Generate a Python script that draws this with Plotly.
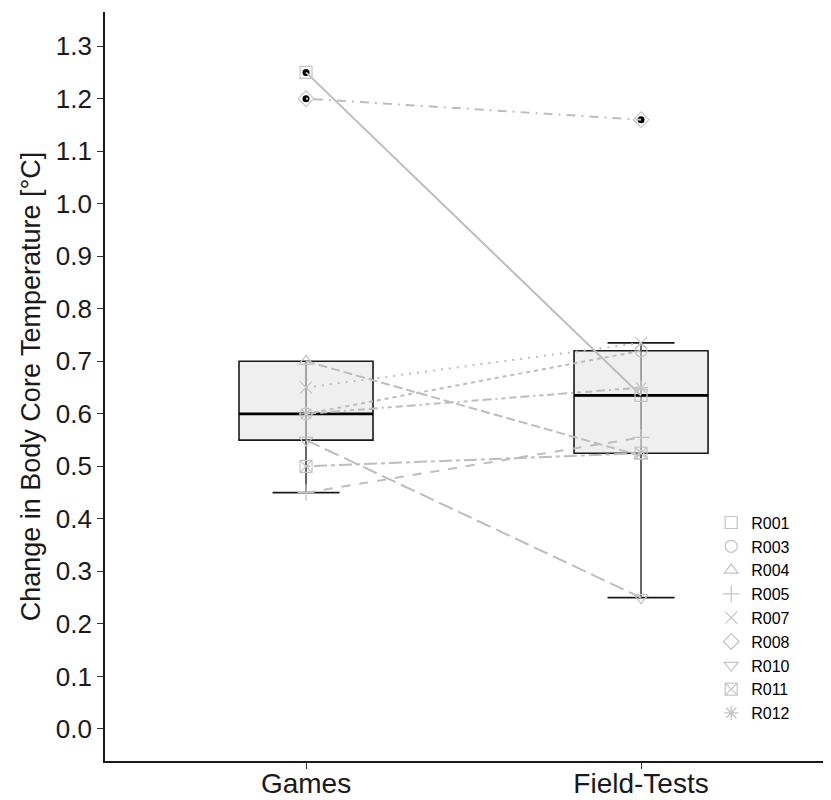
import numpy as np
import plotly.graph_objects as go

# ---- data ----
conditions = ["Games", "Field-Tests"]
subjects = ["R001", "R003", "R004", "R005", "R007", "R008", "R010", "R011", "R012"]
games = [1.25, 0.60, 0.70, 0.45, 0.65, 1.20, 0.55, 0.50, 0.60]
field_tests = [0.635, 0.72, 0.52, 0.555, 0.735, 1.16, 0.25, 0.525, 0.65]
y_ticks = [0.0, 0.1, 0.2, 0.3, 0.4, 0.5, 0.6, 0.7, 0.8, 0.9, 1.0, 1.1, 1.2, 1.3]

symbols = ["square-open", "circle-open", "triangle-up-open", "cross-thin-open",
           "x-thin-open", "diamond-open", "triangle-down-open", "square-x-open",
           "asterisk-open"]
dashes = ["solid", "4px,4px", "9px,4px", "9px,9px", "2px,6px", "2px,6px,9px,6px",
          "15px,6px", "4px,4px,13px,4px", "2px,4px,4px,4px,7px,4px,9px,4px"]

FONT = "Arial, Liberation Sans, sans-serif"
LINE_COL = "#bdbdbd"
MARK_COL = "#c4c4c4"

fig = go.Figure()
xpos = [1, 2]
series = [games, field_tests]

for xi, vals in zip(xpos, series):
    v = np.array(vals)
    q1, med, q3 = np.percentile(v, [25, 50, 75])
    iqr = q3 - q1
    lo_f = v[v >= q1 - 1.5 * iqr].min()
    hi_f = v[v <= q3 + 1.5 * iqr].max()
    outl = v[(v < q1 - 1.5 * iqr) | (v > q3 + 1.5 * iqr)]
    fig.add_trace(go.Box(x=[xi], q1=[q1], median=[med], q3=[q3],
                         lowerfence=[lo_f], upperfence=[hi_f],
                         width=0.4, whiskerwidth=0.5, fillcolor="#efefef",
                         line=dict(color="#1a1a1a", width=1.6),
                         boxpoints=False, showlegend=False, hoverinfo="skip"))
    # errorbar vertical through box
    fig.add_trace(go.Scatter(x=[xi, xi], y=[lo_f, hi_f], mode="lines",
                             line=dict(color="#7a7a7a", width=1.3),
                             showlegend=False, hoverinfo="skip"))
    # thick median
    fig.add_trace(go.Scatter(x=[xi - 0.2, xi + 0.2], y=[med, med], mode="lines",
                             line=dict(color="black", width=2.8),
                             showlegend=False, hoverinfo="skip"))
    fig.add_trace(go.Scatter(x=[xi] * len(outl), y=list(outl), mode="markers",
                             marker=dict(color="black", size=7),
                             showlegend=False, hoverinfo="skip"))

for i, s in enumerate(subjects):
    fig.add_trace(go.Scatter(x=xpos, y=[games[i], field_tests[i]], mode="lines+markers",
                             line=dict(color=LINE_COL, width=2, dash=dashes[i]),
                             marker=dict(symbol=symbols[i], size=12, color=MARK_COL,
                                         line=dict(color=MARK_COL, width=1.2)),
                             showlegend=False, hoverinfo="skip"))
    fig.add_trace(go.Scatter(x=[None], y=[None], mode="markers", name=s,
                             marker=dict(symbol=symbols[i], size=12, color=MARK_COL,
                                         line=dict(color=MARK_COL, width=1.2)),
                             showlegend=True))

# page body has an 8px margin: figure is sized/offset to compensate
fig.update_layout(
    width=823, height=792,
    margin=dict(l=97, r=0, t=4, b=39, autoexpand=False),
    plot_bgcolor="white", paper_bgcolor="white",
    font=dict(family=FONT, color="black"),
    legend=dict(x=0.835, y=0.341, xanchor="left", yanchor="top",
                font=dict(size=16, family=FONT, color="black"),
                bgcolor="rgba(0,0,0,0)", tracegroupgap=0),
    xaxis=dict(range=[0.4, 2.567], tickvals=xpos, ticktext=conditions,
               showgrid=False, zeroline=False, showline=True, linecolor="#1a1a1a",
               linewidth=1.6, ticks="outside", ticklen=6, tickcolor="#333",
               automargin=False, ticklabelstandoff=-9,
               tickfont=dict(size=28, family=FONT, color="#1a1a1a")),
    yaxis=dict(range=[-0.061, 1.365], tickvals=y_ticks,
               ticktext=[f"{t:.1f}" for t in y_ticks],
               showgrid=False, zeroline=False, showline=True, linecolor="#1a1a1a",
               linewidth=1.6, ticks="outside", ticklen=6, tickcolor="#333",
               automargin=False,
               tickfont=dict(size=26, family=FONT, color="#1a1a1a"),
               title=dict(text="Change in Body Core Temperature [°C]",
                          font=dict(size=27, family=FONT, color="#1a1a1a"),
                          standoff=7)),
)

fig.write_html("out.html")
